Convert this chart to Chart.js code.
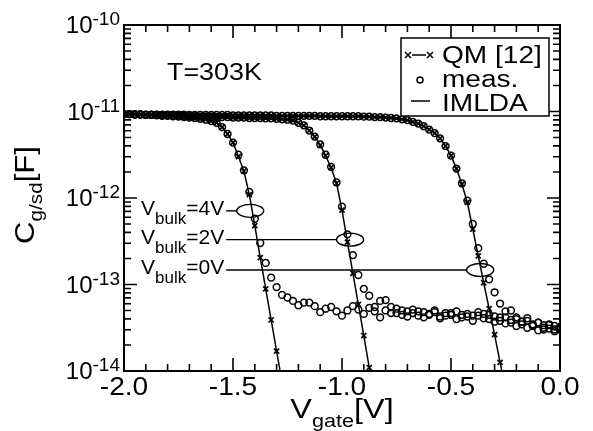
<!DOCTYPE html>
<html>
<head>
<meta charset="utf-8">
<script src="https://cdn.jsdelivr.net/npm/chart.js@4.4.0/dist/chart.umd.min.js"></script>
<style>
  html, body { margin: 0; padding: 0; background: #fff; }
  #wrap { width: 593px; height: 431px; }
</style>
</head>
<body>
<div id="wrap"><canvas id="chartCap"></canvas></div>
<script>
// gate voltage grid [V]
const vGate = [
  -2.000, -1.975, -1.950, -1.925, -1.900, -1.875, -1.850, -1.825, -1.800, -1.775,
  -1.750, -1.725, -1.700, -1.675, -1.650, -1.625, -1.600, -1.575, -1.550, -1.525,
  -1.500, -1.475, -1.450, -1.425, -1.400, -1.375, -1.350, -1.325, -1.300, -1.275,
  -1.250, -1.225, -1.200, -1.175, -1.150, -1.125, -1.100, -1.075, -1.050, -1.025,
  -1.000, -0.975, -0.950, -0.925, -0.900, -0.875, -0.850, -0.825, -0.800, -0.775,
  -0.750, -0.725, -0.700, -0.675, -0.650, -0.625, -0.600, -0.575, -0.550, -0.525,
  -0.500, -0.475, -0.450, -0.425, -0.400, -0.375, -0.350, -0.325, -0.300, -0.275,
  -0.250, -0.225, -0.200, -0.175, -0.150, -0.125, -0.100, -0.075, -0.050, -0.025,
  0.000
];

// log10 of C_g/sd [F], simulation (IMLDA line / QM crosses)
const sim4V = [
  -11.03, -11.03, -11.035, -11.035, -11.04, -11.04, -11.045, -11.05, -11.05, -11.055,
  -11.06, -11.065, -11.07, -11.075, -11.085, -11.095, -11.11, -11.13, -11.18, -11.26,
  -11.36, -11.52, -11.69, -11.96, -12.32, -12.69, -13.05, -13.41, -13.77, -14.13
];
const sim2V = [
  -11.03, -11.03, -11.035, -11.035, -11.04, -11.04, -11.04, -11.045, -11.045, -11.05,
  -11.05, -11.05, -11.055, -11.055, -11.06, -11.06, -11.06, -11.065, -11.065, -11.065,
  -11.07, -11.07, -11.07, -11.075, -11.075, -11.075, -11.08, -11.08, -11.085, -11.09,
  -11.095, -11.105, -11.13, -11.16, -11.22, -11.29, -11.39, -11.51, -11.65, -11.83,
  -12.14, -12.51, -12.87, -13.23, -13.59, -13.96, -14.32
];
const sim0V = [
  -11.03, -11.03, -11.03, -11.03, -11.035, -11.035, -11.035, -11.035, -11.035, -11.035,
  -11.035, -11.035, -11.04, -11.04, -11.04, -11.04, -11.04, -11.04, -11.04, -11.04,
  -11.045, -11.045, -11.045, -11.045, -11.045, -11.045, -11.045, -11.045, -11.05, -11.05,
  -11.05, -11.05, -11.05, -11.05, -11.05, -11.05, -11.055, -11.055, -11.055, -11.055,
  -11.055, -11.055, -11.055, -11.055, -11.06, -11.06, -11.065, -11.065, -11.07, -11.075,
  -11.08, -11.09, -11.10, -11.12, -11.14, -11.17, -11.21, -11.25, -11.31, -11.40,
  -11.51, -11.66, -11.84, -12.05, -12.36, -12.67, -12.98, -13.28, -13.58, -13.90,
  -14.20
];

// log10 of C_g/sd [F], measurement
const meas4V = [
  -11.03, -11.03, -11.035, -11.035, -11.04, -11.04, -11.045, -11.05, -11.05, -11.055,
  -11.06, -11.065, -11.07, -11.075, -11.085, -11.095, -11.11, -11.13, -11.18, -11.26,
  -11.36, -11.50, -11.68, -11.93, -12.24, -12.52, -12.75, -12.92, -13.03, -13.12,
  -13.15, -13.19, -13.24, -13.21, -13.21, -13.25, -13.32, -13.28, -13.26, -13.31,
  -13.36, -13.30, -13.25, -13.29, -13.34, -13.27, -13.31, -13.38, -13.30, -13.33,
  -13.28, -13.35, -13.31, -13.29, -13.36, -13.32, -13.34, -13.30, -13.37, -13.33,
  -13.35, -13.31, -13.38, -13.34, -13.36, -13.32, -13.39, -13.35, -13.37, -13.42,
  -13.38, -13.44, -13.40, -13.46, -13.42, -13.48, -13.44, -13.50, -13.46, -13.52,
  -13.49
];
const meas2V = [
  -11.03, -11.03, -11.035, -11.035, -11.04, -11.04, -11.04, -11.045, -11.045, -11.05,
  -11.05, -11.05, -11.055, -11.055, -11.06, -11.06, -11.06, -11.065, -11.065, -11.065,
  -11.07, -11.07, -11.07, -11.075, -11.075, -11.075, -11.08, -11.08, -11.085, -11.09,
  -11.095, -11.105, -11.13, -11.16, -11.22, -11.29, -11.38, -11.50, -11.64, -11.82,
  -12.10, -12.42, -12.66, -12.89, -13.05, -13.13, -13.26, -13.19, -13.18, -13.26,
  -13.33, -13.30, -13.37, -13.33, -13.31, -13.38, -13.35, -13.32, -13.39, -13.36,
  -13.33, -13.40, -13.35, -13.37, -13.42, -13.36, -13.34, -13.40, -13.43, -13.38,
  -13.45, -13.41, -13.48, -13.43, -13.50, -13.46, -13.53, -13.47, -13.51, -13.48,
  -13.52
];
const meas0V = [
  -11.03, -11.03, -11.03, -11.03, -11.035, -11.035, -11.035, -11.035, -11.035, -11.035,
  -11.035, -11.035, -11.04, -11.04, -11.04, -11.04, -11.04, -11.04, -11.04, -11.04,
  -11.045, -11.045, -11.045, -11.045, -11.045, -11.045, -11.045, -11.045, -11.05, -11.05,
  -11.05, -11.05, -11.05, -11.05, -11.05, -11.05, -11.055, -11.055, -11.055, -11.055,
  -11.055, -11.055, -11.055, -11.055, -11.06, -11.06, -11.065, -11.065, -11.07, -11.075,
  -11.08, -11.09, -11.10, -11.12, -11.14, -11.17, -11.21, -11.25, -11.31, -11.40,
  -11.51, -11.66, -11.83, -12.03, -12.30, -12.58, -12.76, -12.94, -13.09, -13.22,
  -13.31, -13.30, -13.38, -13.43, -13.39, -13.47, -13.44, -13.52, -13.47, -13.54,
  -13.50
];

// axis ticks
const xTickValues = [-2.0, -1.5, -1.0, -0.5, 0.0];
const xTickLabels = ["-2.0", "-1.5", "-1.0", "-0.5", "0.0"];
const yDecades = [-14, -13, -12, -11, -10];
const yTickLabels = ["-14", "-13", "-12", "-11", "-10"];

// annotations: bulk voltage, ellipse centre (V, F)
const bulkNames = ["4V", "2V", "0V"];
const bulkMarkX = [-1.421, -0.963, -0.366];
const bulkMarkY = [7.1e-13, 3.3e-13, 1.47e-13];

const FONT = '"Liberation Sans", Arial, Helvetica, sans-serif';

function toXY(arr) {
  return arr.map(function (v, i) { return { x: vGate[i], y: Math.pow(10, v) }; });
}

function lineSet(arr) {
  return {
    data: toXY(arr), showLine: true, borderColor: "#000", borderWidth: 1.5,
    pointRadius: 0, pointHoverRadius: 0
  };
}
function crossSet(arr) {
  return {
    data: toXY(arr), showLine: false, pointStyle: "crossRot", pointRadius: 3.6,
    borderColor: "#000", borderWidth: 1.7, backgroundColor: "#000"
  };
}
function circleSet(arr) {
  return {
    data: toXY(arr), showLine: false, pointStyle: "circle", pointRadius: 3.4,
    borderColor: "#000", borderWidth: 1.5, backgroundColor: "rgba(0,0,0,0)"
  };
}

// draws a run of text pieces [text, size, dy] starting/centred at x
function drawParts(ctx, x, y, parts, align, sx) {
  var w = 0;
  parts.forEach(function (p) {
    ctx.font = p[1] + "px " + FONT;
    w += ctx.measureText(p[0]).width;
  });
  ctx.save();
  ctx.translate(x, y);
  ctx.scale(sx, 1);
  var cx = align === "right" ? -w : align === "center" ? -w / 2 : 0;
  ctx.textAlign = "left";
  ctx.textBaseline = "alphabetic";
  parts.forEach(function (p) {
    ctx.font = p[1] + "px " + FONT;
    ctx.fillText(p[0], cx, p[2] || 0);
    cx += ctx.measureText(p[0]).width;
  });
  ctx.restore();
  return w * sx;
}

const decor = {
  id: "decor",
  afterDatasetsDraw: function (chart) {
    const ctx = chart.ctx, a = chart.chartArea;
    const xs = chart.scales.x, ys = chart.scales.y;
    ctx.save();
    ctx.strokeStyle = "#000";
    ctx.fillStyle = "#000";

    // frame
    ctx.lineWidth = 2;
    ctx.strokeRect(a.left, a.top, a.right - a.left, a.bottom - a.top);

    // inward ticks on all four sides
    ctx.lineWidth = 1.6;
    ctx.beginPath();
    for (var k = -20; k <= 0; k++) {
      var px = xs.getPixelForValue(k / 10);
      var len = (k % 5 === 0) ? 13 : 7;
      ctx.moveTo(px, a.bottom); ctx.lineTo(px, a.bottom - len);
      ctx.moveTo(px, a.top); ctx.lineTo(px, a.top + len);
    }
    yDecades.forEach(function (d) {
      for (var m = 1; m <= 9; m++) {
        if (d === -10 && m > 1) break;
        var py = ys.getPixelForValue(m * Math.pow(10, d));
        var len = m === 1 ? 13 : 7;
        ctx.moveTo(a.left, py); ctx.lineTo(a.left + len, py);
        ctx.moveTo(a.right, py); ctx.lineTo(a.right - len, py);
      }
    });
    ctx.stroke();

    // tick labels
    xTickValues.forEach(function (v, i) {
      drawParts(ctx, xs.getPixelForValue(v), a.bottom + 24, [[xTickLabels[i], 26]], "center", 1.08);
    });
    yDecades.forEach(function (d, i) {
      var py = ys.getPixelForValue(Math.pow(10, d));
      drawParts(ctx, 120, py + 8, [["10", 24], [yTickLabels[i], 19, -8]], "right", 1.0);
    });

    // axis titles
    drawParts(ctx, (a.left + a.right) / 2, 418, [["V", 27], ["gate", 18, 9], ["[V]", 27]], "center", 1.2);
    ctx.save();
    ctx.translate(34, 195);
    ctx.rotate(-Math.PI / 2);
    drawParts(ctx, 0, 0, [["C", 27], ["g/sd", 18, 8], ["[F]", 27]], "center", 1.15);
    ctx.restore();

    // temperature
    drawParts(ctx, 167, 80, [["T=303K", 24]], "left", 1.12);

    // bulk voltage labels with ellipses
    ctx.lineWidth = 1.4;
    bulkNames.forEach(function (name, i) {
      var cx = xs.getPixelForValue(bulkMarkX[i]);
      var cy = ys.getPixelForValue(bulkMarkY[i]);
      var w = drawParts(ctx, 141, cy + 4, [["V", 21], ["bulk", 17, 9], ["=" + name, 21]], "left", 1.0);
      ctx.beginPath();
      ctx.moveTo(141 + w + 2, cy);
      ctx.lineTo(cx - 13.5, cy);
      ctx.stroke();
      ctx.beginPath();
      ctx.ellipse(cx, cy, 13.5, 6.5, 0, 0, Math.PI * 2);
      ctx.stroke();
    });

    // legend
    ctx.fillStyle = "#fff";
    ctx.fillRect(401, 38, 148, 78);
    ctx.lineWidth = 1.5;
    ctx.strokeRect(401, 38, 148, 78);
    ctx.fillStyle = "#000";
    ctx.lineWidth = 1.5;
    ctx.beginPath();
    [408, 430].forEach(function (x) {
      ctx.moveTo(x - 3, 52); ctx.lineTo(x + 3, 58);
      ctx.moveTo(x + 3, 52); ctx.lineTo(x - 3, 58);
    });
    ctx.moveTo(412, 55); ctx.lineTo(426, 55);
    ctx.moveTo(411, 101); ctx.lineTo(430, 101);
    ctx.stroke();
    ctx.beginPath();
    ctx.arc(420, 80, 3, 0, Math.PI * 2);
    ctx.stroke();
    drawParts(ctx, 442, 63, [["QM [12]", 23]], "left", 1.22);
    drawParts(ctx, 442, 87, [["meas.", 23]], "left", 1.22);
    drawParts(ctx, 442, 111, [["IMLDA", 23]], "left", 1.22);

    ctx.restore();
  }
};

const ctx = document.getElementById("chartCap").getContext("2d");
const chartCap = new Chart(ctx, {
  type: "scatter",
  data: {
    datasets: [
      lineSet(sim4V), lineSet(sim2V), lineSet(sim0V),
      crossSet(sim4V), crossSet(sim2V), crossSet(sim0V),
      circleSet(meas4V), circleSet(meas2V), circleSet(meas0V)
    ]
  },
  options: {
    responsive: true,
    maintainAspectRatio: false,
    animation: false,
    devicePixelRatio: 1,
    layout: { padding: { left: 124, right: 33, top: 25, bottom: 60 } },
    plugins: { legend: { display: false }, tooltip: { enabled: false } },
    scales: {
      x: { type: "linear", min: -2, max: 0, display: false },
      y: { type: "logarithmic", min: 1e-14, max: 1e-10, display: false }
    }
  },
  plugins: [decor]
});
</script>
</body>
</html>
